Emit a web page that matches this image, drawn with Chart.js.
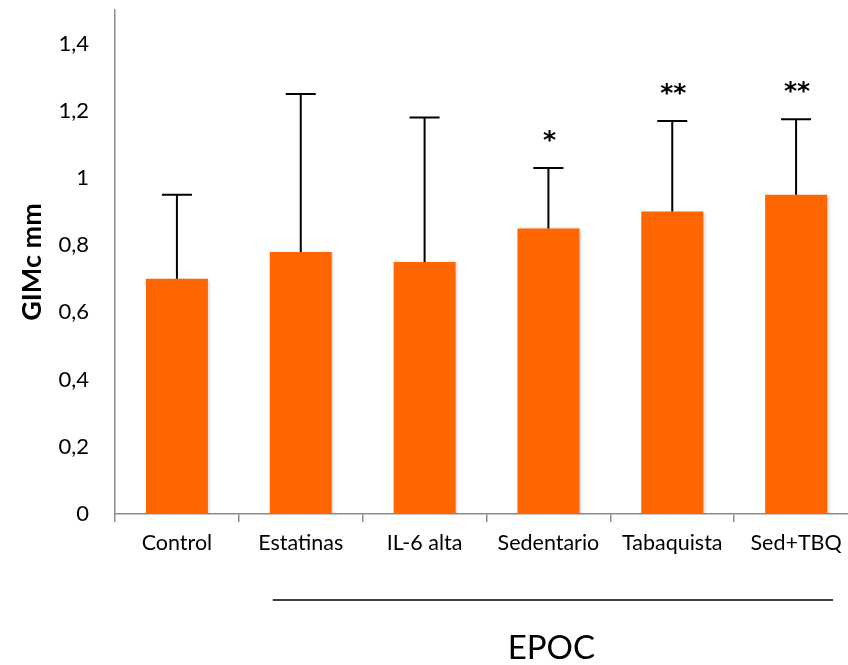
<!DOCTYPE html>
<html>
<head>
<meta charset="utf-8">
<script src="https://cdn.jsdelivr.net/npm/chart.js@4.4.1/dist/chart.umd.min.js"></script>
<style>
  html, body { margin: 0; padding: 0; background: #fff; overflow: hidden; }
  #wrap { width: 870px; height: 665px; }
</style>
</head>
<body>
<div id="wrap"><canvas id="c" width="870" height="665"></canvas></div>
<script>
// ---- data ----
const categories = ['Control', 'Estatinas', 'IL-6 alta', 'Sedentario', 'Tabaquista', 'Sed+TBQ'];
const meanValues = [0.70, 0.78, 0.75, 0.85, 0.90, 0.95];
const sdValues   = [0.25, 0.47, 0.43, 0.18, 0.27, 0.225];
const significance = ['', '', '', '*', '**', '**'];
const yTickValues = [0, 0.2, 0.4, 0.6, 0.8, 1, 1.2, 1.4];
const yAxisTitle = 'GIMc mm';
const groupLabel = 'EPOC';
const groupFirst = 1, groupLast = 5;

const FONT = 'Lato, "Open Sans", sans-serif';

const shadowPlugin = {
  id: 'barShadow',
  beforeDatasetDraw(chart) {
    const ctx = chart.ctx;
    ctx.save();
    ctx.shadowColor = 'rgba(0,0,0,0.25)';
    ctx.shadowBlur = 3;
    ctx.shadowOffsetX = 1.5;
    ctx.shadowOffsetY = 1;
  },
  afterDatasetDraw(chart) { chart.ctx.restore(); }
};

const errorPlugin = {
  id: 'errorBars',
  afterDatasetsDraw(chart) {
    const ctx = chart.ctx;
    const xs = chart.scales.x, ys = chart.scales.y;
    ctx.save();
    ctx.strokeStyle = '#000';
    ctx.lineWidth = 2;
    meanValues.forEach((m, i) => {
      const x = xs.getPixelForValue(i);
      const y0 = ys.getPixelForValue(m);
      const y1 = ys.getPixelForValue(m + sdValues[i]);
      ctx.beginPath();
      ctx.moveTo(x, y0); ctx.lineTo(x, y1);
      ctx.moveTo(x - 15, y1); ctx.lineTo(x + 15, y1);
      ctx.stroke();
      if (significance[i]) {
        ctx.fillStyle = '#000';
        ctx.font = 'bold 25px "DejaVu Sans", sans-serif';
        ctx.textAlign = 'center';
        ctx.textBaseline = 'alphabetic';
        ctx.fillText(significance[i], x + 1, y1 - 20);
      }
    });
    // group bracket line + label
    const xa = xs.getPixelForValue(groupFirst) - 28;
    const xb = xs.getPixelForValue(groupLast) + 37;
    ctx.beginPath();
    ctx.lineWidth = 1.5;
    ctx.moveTo(xa, 600); ctx.lineTo(xb, 600);
    ctx.stroke();
    ctx.fillStyle = '#000';
    ctx.font = '33px ' + FONT;
    ctx.textAlign = 'center';
    ctx.textBaseline = 'middle';
    const cx = (xs.getPixelForValue(groupFirst) + xs.getPixelForValue(groupLast)) / 2;
    ctx.fillText(groupLabel, cx + 3, 648);
    ctx.restore();
  }
};

new Chart(document.getElementById('c'), {
  type: 'bar',
  data: {
    labels: categories,
    datasets: [{
      data: meanValues,
      backgroundColor: '#FF6600',
      borderWidth: 0,
      barPercentage: 0.5,
      categoryPercentage: 1.0
    }]
  },
  options: {
    responsive: false,
    devicePixelRatio: 1,
    animation: false,
    layout: { padding: { left: 0, right: 12, top: 10, bottom: 0 } },
    plugins: { legend: { display: false }, tooltip: { enabled: false } },
    scales: {
      x: {
        offset: true,
        grid: { display: true, drawOnChartArea: false, drawTicks: true, tickLength: 8, color: '#8c8c8c', lineWidth: 1.5, offset: true },
        border: { display: true, color: '#8c8c8c', width: 1.5 },
        ticks: { color: '#000', font: { family: FONT, size: 21.5 }, padding: 8, maxRotation: 0, autoSkip: false },
        afterFit(s) { s.height = 151; s.paddingLeft = 0; s.paddingRight = 0; }
      },
      y: {
        min: 0, max: 1.5,
        grid: { display: false },
        border: { display: true, color: '#8c8c8c', width: 1.5 },
        ticks: {
          stepSize: 0.2,
          color: '#000',
          padding: 18,
          font: { family: FONT, size: 22 },
          callback: v => String(Number(v.toFixed(1))).replace('.', ',')
        },
        afterBuildTicks(s) { s.ticks = yTickValues.map(v => ({ value: v })); },
        afterFit(s) { s.width = 115; s.paddingTop = 0; s.paddingBottom = 0; },
        title: {
          display: true,
          text: yAxisTitle,
          color: '#000',
          font: { family: FONT, size: 27, weight: 'bold' },
          padding: { top: 16, bottom: 0 }
        }
      }
    }
  },
  plugins: [shadowPlugin, errorPlugin]
});
</script>
</body>
</html>
